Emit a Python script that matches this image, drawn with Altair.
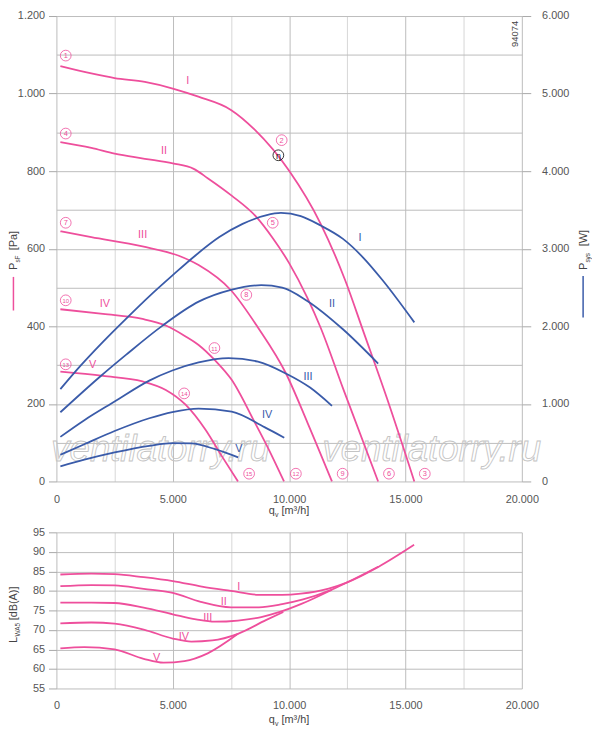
import altair as alt
import pandas as pd

PINK = "#ee4f9c"
BLUE = "#3a5ba9"
GRID = "#bcbcbc"
GRID_MINOR = "#d6d6d6"
TICK = "#a8a8a8"
LABEL = "#555555"
FONT = "Liberation Sans"

# ---------------- static pressure P_sF [Pa] ----------------
psf_I_q = [170, 1500, 2500, 3800, 5000, 6100, 7500, 8520, 10000, 11350, 12400, 13200, 14200, 15380]
psf_I_p = [1071, 1052, 1040, 1030, 1013, 992, 958, 907, 801, 665, 520, 385, 215, 0]
psf_II_q = [170, 1500, 2500, 3800, 5000, 5900, 6500, 7530, 8590, 9300, 10000, 10780, 11350, 12340, 13825]
psf_II_p = [875, 860, 845, 832, 820, 806, 782, 737, 682, 627, 563, 474, 397, 236, 0]
psf_III_q = [170, 1500, 3700, 5260, 6110, 7500, 8660, 9860, 10800, 11840]
psf_III_p = [645, 630, 606, 582, 558, 493, 397, 279, 150, 0]
psf_IV_q = [170, 2000, 3700, 4700, 5550, 6110, 6820, 7530, 8500, 9080, 9780]
psf_IV_p = [444, 432, 419, 402, 374, 352, 312, 262, 155, 88, 0]
psf_V_q = [170, 2000, 3700, 4700, 5550, 6400, 7100, 7800]
psf_V_p = [283, 272, 258, 236, 198, 134, 66, 0]

# ---------------- power P_sys [W] ----------------
psys_I_q = [170, 1000, 2000, 3000, 4000, 5000, 6000, 7000, 8000, 9000, 9650, 10500, 11350, 12300, 13200, 14000, 15380]
psys_I_w = [1190, 1480, 1800, 2100, 2390, 2660, 2920, 3150, 3320, 3430, 3461, 3420, 3300, 3130, 2880, 2600, 2051]
psys_II_q = [170, 1870, 3000, 4560, 6110, 7460, 8800, 9700, 10780, 12300, 13825]
psys_II_w = [892, 1350, 1635, 2009, 2318, 2467, 2530, 2500, 2327, 1965, 1520]
psys_III_q = [170, 1200, 2500, 3990, 4980, 6110, 7400, 8660, 9860, 10900, 11840]
psys_III_w = [575, 790, 1030, 1300, 1430, 1535, 1590, 1545, 1392, 1210, 975]
psys_IV_q = [170, 1200, 2500, 3990, 4980, 6110, 7530, 8940, 9790]
psys_IV_w = [344, 480, 650, 815, 895, 940, 900, 700, 564]
psys_V_q = [170, 1200, 2500, 3990, 5000, 5800, 6820, 7810]
psys_V_w = [195, 280, 374, 460, 495, 490, 416, 310]

# ---------------- sound power L_WA5 [dB(A)] ----------------
lwa_I_q = [170, 1500, 2500, 3750, 5000, 6250, 7500, 8700, 9700, 10500, 11700, 12500, 13850, 15370]
lwa_I_db = [84.2, 84.4, 84.3, 83.5, 82.5, 81.1, 80.0, 79.0, 79.0, 79.3, 80.6, 82.2, 86.2, 91.8]
lwa_II_q = [170, 1500, 2500, 3750, 5000, 6200, 7500, 8700, 9700, 10600, 11700, 12500, 13830]
lwa_II_db = [81.2, 81.5, 81.4, 80.5, 79.5, 77.2, 75.8, 75.8, 76.6, 77.8, 80.0, 82.2, 86.2]
lwa_III_q = [170, 1500, 2500, 3750, 5000, 6000, 6800, 7800, 8800, 9600, 10500, 11840]
lwa_III_db = [77.0, 77.0, 76.9, 75.7, 74.0, 72.7, 72.1, 72.4, 73.3, 74.6, 76.6, 80.3]
lwa_IV_q = [170, 1500, 2500, 3750, 5000, 5800, 6700, 7800, 9000, 9750]
lwa_IV_db = [71.7, 71.9, 71.6, 70.1, 67.8, 67.0, 67.3, 69.0, 72.5, 74.6]
lwa_V_q = [170, 1200, 2500, 3750, 4600, 5500, 6500, 7800]
lwa_V_db = [65.3, 65.6, 65.0, 62.6, 61.6, 62.0, 64.0, 69.0]

# ---------------- annotations ----------------
speed_names = ["I", "II", "III", "IV", "V"]
psf_lbl_q = [5645, 4627, 3705, 2080, 1556]
psf_lbl_p = [1032, 853, 635, 457, 300]
psys_lbl_q = [13045, 11842, 10808, 9055, 7838]
psys_lbl_w = [3134, 2284, 1350, 862, 424]
lwa_lbl_q = [7840, 7190, 6500, 5480, 4310]
lwa_lbl_db = [81.0, 77.2, 73.0, 68.1, 62.8]

pt_q = [400, 9680, 15830, 400, 9295, 14290, 400, 8160, 12300, 400, 6790, 10290, 400, 5490, 8280]
pt_p = [1098, 880, 20, 897, 667, 20, 667, 481, 20, 467, 344, 20, 302, 227, 20]
pt_t = [str(i) for i in range(1, 16)]

eta_q = [9537]
eta_p = [841]
eta_t = ["η"]

wm_q = [4478, 16130]
wm_p = [53, 53]
wm_t = ["ventilatorry.ru", "ventilatorry.ru"]

id_q = [19700]
id_p = [1154]
id_t = ["94074"]

X_GRID_VALUES = list(range(0, 20001, 2500))
PA_VALUES = list(range(0, 1201, 100))
W_VALUES = list(range(0, 6001, 1000))
DB_VALUES = list(range(55, 96, 5))

FMT = "replace(format(datum.value, ','), ',', '.')"


def long_frame(names, xs, ys, xname, yname):
    rows = []
    for n, xx, yy in zip(names, xs, ys):
        for a, b in zip(xx, yy):
            rows.append({"curve": n, xname: a, yname: b})
    return pd.DataFrame(rows)


psf_df = long_frame(speed_names,
                    [psf_I_q, psf_II_q, psf_III_q, psf_IV_q, psf_V_q],
                    [psf_I_p, psf_II_p, psf_III_p, psf_IV_p, psf_V_p], "q", "p")
psys_df = long_frame(speed_names,
                     [psys_I_q, psys_II_q, psys_III_q, psys_IV_q, psys_V_q],
                     [psys_I_w, psys_II_w, psys_III_w, psys_IV_w, psys_V_w], "q", "w")
lwa_df = long_frame(speed_names,
                    [lwa_I_q, lwa_II_q, lwa_III_q, lwa_IV_q, lwa_V_q],
                    [lwa_I_db, lwa_II_db, lwa_III_db, lwa_IV_db, lwa_V_db], "q", "db")

psf_lbl_df = pd.DataFrame({"q": psf_lbl_q, "p": psf_lbl_p, "t": speed_names})
psys_lbl_df = pd.DataFrame({"q": psys_lbl_q, "w": psys_lbl_w, "t": speed_names})
lwa_lbl_df = pd.DataFrame({"q": lwa_lbl_q, "db": lwa_lbl_db, "t": speed_names})
pt_df = pd.DataFrame({"q": pt_q, "p": pt_p, "t": pt_t})
pt_df["big"] = pt_df["t"].str.len() > 1
eta_df = pd.DataFrame({"q": eta_q, "p": eta_p, "t": eta_t})
wm_df = pd.DataFrame({"q": wm_q, "p": wm_p, "t": wm_t})
id_df = pd.DataFrame({"q": id_q, "p": id_p, "t": id_t})
one = pd.DataFrame({"k": [0]})


def x_enc(pad):
    return alt.X("q:Q", scale=alt.Scale(domain=[0, 20000], nice=False, zero=False),
                 axis=alt.Axis(values=X_GRID_VALUES,
                               labelExpr="datum.value % 5000 == 0 ? " + FMT + " : ''",
                               grid=True,
                               gridColor={"condition": {"test": "datum.value % 5000 == 0", "value": GRID},
                                          "value": GRID_MINOR},
                               ticks=False, domain=False, labelPadding=pad, labelFlush=False,
                               labelOverlap=False, title=None))


def y_pa():
    return alt.Y("p:Q", scale=alt.Scale(domain=[0, 1200], nice=False, zero=False),
                 axis=alt.Axis(values=PA_VALUES,
                               labelExpr="datum.value % 200 == 0 ? " + FMT + " : ''",
                               grid=True, gridColor=GRID,
                               tickColor={"condition": {"test": "datum.value % 200 == 0", "value": TICK},
                                          "value": "transparent"},
                               tickSize=8, labelPadding=4, domain=False, labelOverlap=False, title=None))


def y_w():
    return alt.Y("w:Q", scale=alt.Scale(domain=[0, 6000], nice=False, zero=False),
                 axis=alt.Axis(orient="right", values=W_VALUES, labelExpr=FMT, grid=False,
                               tickColor=TICK, tickSize=9, labelPadding=11, domain=False,
                               labelOverlap=False, title=None))


def y_db():
    return alt.Y("db:Q", scale=alt.Scale(domain=[55, 95], nice=False, zero=False),
                 axis=alt.Axis(values=DB_VALUES, grid=True, gridColor=GRID, tickColor=TICK,
                               tickSize=8, labelPadding=4, domain=False, labelOverlap=False, title=None))


def txt(text, x, y, size=11, angle=0):
    return alt.Chart(one).mark_text(text=text, angle=angle, align="left", baseline="alphabetic",
                                    fontSize=size, font=FONT, color="#444444").encode(
        x=alt.value(x), y=alt.value(y))


XT = x_enc(12.5)
XB = x_enc(11.5)

# ---------------- top panel ----------------
watermark = alt.Chart(wm_df).mark_text(fontSize=37, font=FONT, fontStyle="italic",
                                       fill="#ffffff", fillOpacity=0, stroke="#c4c4c4",
                                       strokeWidth=0.9, baseline="alphabetic").encode(
    x=XT, y=y_pa(), text="t:N")

psf_lines = alt.Chart(psf_df).mark_line(color=PINK, strokeWidth=1.8, interpolate="monotone").encode(
    x=XT, y=y_pa(), detail="curve:N")

psf_labels = alt.Chart(psf_lbl_df).mark_text(color=PINK, fontSize=11, font=FONT).encode(
    x=XT, y=y_pa(), text="t:N")

circles = alt.Chart(pt_df).mark_point(shape="circle", filled=False, size=118, color=PINK,
                                      strokeWidth=0.8, opacity=1).encode(x=XT, y=y_pa())
circ_small = alt.Chart(pt_df[~pt_df["big"]]).mark_text(color=PINK, fontSize=7.5, font=FONT,
                                                      baseline="middle", dy=0.5).encode(
    x=XT, y=y_pa(), text="t:N")
circ_big = alt.Chart(pt_df[pt_df["big"]]).mark_text(color=PINK, fontSize=6, font=FONT,
                                                   baseline="middle", dy=0.5).encode(
    x=XT, y=y_pa(), text="t:N")

eta_circle = alt.Chart(eta_df).mark_point(shape="circle", filled=False, size=118, color="#222222",
                                          strokeWidth=0.9, opacity=1).encode(x=XT, y=y_pa())
eta_text = alt.Chart(eta_df).mark_text(color="#222222", fontSize=9, font=FONT,
                                       baseline="middle", dy=1).encode(x=XT, y=y_pa(), text="t:N")

id_text = alt.Chart(id_df).mark_text(color="#444444", fontSize=9.5, font=FONT, angle=270,
                                     baseline="middle").encode(x=XT, y=y_pa(), text="t:N")

left_title = [
    txt("P", -39.5, 257, angle=270),
    txt("sF", -36.5, 249.5, size=6.5, angle=270),
    txt("[Pa]", -39.5, 237, angle=270),
]
pink_key = alt.Chart(one).mark_rule(color=PINK, strokeWidth=1.5).encode(
    x=alt.value(-43.5), y=alt.value(264), y2=alt.value(298))

right_title = [
    txt("P", 537, 257, angle=270),
    txt("sys", 540, 249.5, size=6.5, angle=270),
    txt("[W]", 537, 233, angle=270),
]
blue_key = alt.Chart(one).mark_rule(color=BLUE, strokeWidth=1.5).encode(
    x=alt.value(533), y=alt.value(263), y2=alt.value(305))

top_xtitle = [txt("q", 215, 504), txt("v", 221.3, 507, size=7), txt("[m³/h]", 227.8, 504)]

pa_group = alt.layer(watermark, psf_lines, psf_labels, circles, circ_small, circ_big,
                     eta_circle, eta_text, id_text, pink_key, *left_title, *top_xtitle)

psys_lines = alt.Chart(psys_df).mark_line(color=BLUE, strokeWidth=1.8, interpolate="monotone").encode(
    x=XT, y=y_w(), detail="curve:N")
psys_labels = alt.Chart(psys_lbl_df).mark_text(color=BLUE, fontSize=11, font=FONT).encode(
    x=XT, y=y_w(), text="t:N")
w_group = alt.layer(psys_lines, psys_labels, blue_key, *right_title)

top = alt.layer(pa_group, w_group).resolve_scale(y="independent").properties(width=471, height=471)

# ---------------- bottom panel ----------------
lwa_lines = alt.Chart(lwa_df).mark_line(color=PINK, strokeWidth=1.8, interpolate="monotone").encode(
    x=XB, y=y_db(), detail="curve:N")
lwa_labels = alt.Chart(lwa_lbl_df).mark_text(color=PINK, fontSize=11, font=FONT).encode(
    x=XB, y=y_db(), text="t:N")

bottom_title = [
    txt("L", -39.5, 112, angle=270),
    txt("WA5", -36.5, 105.5, size=6.5, angle=270),
    txt("[dB(A)]", -39.5, 89, angle=270),
]
bottom_xtitle = [txt("q", 215, 193), txt("v", 221.3, 196, size=7), txt("[m³/h]", 227.8, 193)]

bottom = alt.layer(lwa_lines, lwa_labels, *bottom_title, *bottom_xtitle).properties(width=471, height=158)

chart = alt.vconcat(top, bottom, spacing=8.5).properties(
    padding={"left": 0, "top": -2.2, "right": 0, "bottom": -1}
).configure_view(strokeOpacity=0).configure_axis(
    labelFont=FONT, labelFontSize=11, labelColor=LABEL
)

chart.save("out.html", embed_options={"renderer": "svg", "actions": False})
